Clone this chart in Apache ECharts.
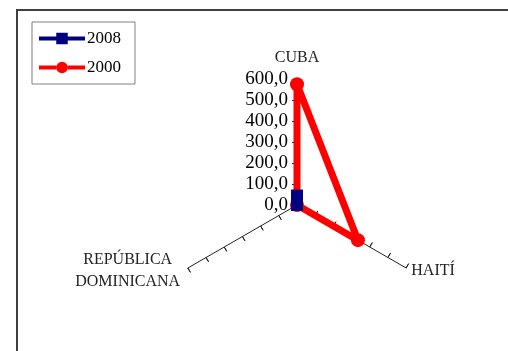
<!DOCTYPE html>
<html>
<head>
<meta charset="utf-8">
<script src="https://cdn.jsdelivr.net/npm/echarts@6/dist/echarts.min.js"></script>
<style>
  html, body { margin: 0; padding: 0; background: #fff; }
  #chart { width: 508px; height: 351px; }
</style>
</head>
<body>
<div id="chart"></div>
<script>
// ejes del radar (ECharts los recorre en sentido antihorario)
const paises = ['CUBA', 'REPÚBLICA DOMINICANA', 'HAITÍ'];
const maxEje = 600;
// valores por serie (mismo orden que paises)
const serie2000 = [575, 0, 335];
const serie2008 = [45, '-', '-'];
const nombresSeries = ['2008', '2000'];

const fuente = 'Liberation Serif';
const fmt = v => Number(v).toFixed(1).replace('.', ',');

// iconos de la leyenda: linea gruesa con marcador
const iconoCirculo = 'path://M0,5H18V9H0Z M30,5H48V9H30Z M18,7A6,6 0 1,1 30,7A6,6 0 1,1 18,7Z';
const iconoCuadro = 'path://M0,5H18V9H0Z M30,5H48V9H30Z M18,1H30V13H18Z';

// solo el eje de CUBA lleva etiquetas de valores
const indicadores = paises.map((p, i) => ({
  name: p,
  max: maxEje,
  min: 0,
  nameGap: i === 0 ? 13 : 6,
  axisLabel: { show: i === 0 }
}));

const myChart = echarts.init(document.getElementById('chart'));
const option = {
  animation: false,
  legend: {
    orient: 'vertical',
    left: 32,
    top: 22,
    padding: [8, 14, 8, 7],
    itemGap: 12,
    itemWidth: 46,
    itemHeight: 14,
    borderColor: '#808080',
    borderWidth: 1,
    backgroundColor: '#fff',
    textStyle: { fontFamily: fuente, fontSize: 17, color: '#000', padding: [0, 0, 0, -3] },
    data: [
      { name: '2008', icon: iconoCuadro },
      { name: '2000', icon: iconoCirculo }
    ]
  },
  graphic: [{
    type: 'polyline',
    shape: { points: [[17, 351], [17, 10], [508, 10]] },
    style: { stroke: '#404040', lineWidth: 2, fill: null },
    silent: true
  }],
  radar: [{
    center: [297, 205],
    radius: 126,
    startAngle: 90,
    shape: 'polygon',
    splitNumber: 6,
    indicator: indicadores,
    axisName: {
      color: '#222',
      fontFamily: fuente,
      fontSize: 16,
      formatter: function (n) {
        if (n === 'REPÚBLICA DOMINICANA') return '{c|REPÚBLICA}\n{c|DOMINICANA}';
        return n;
      },
      rich: { c: { width: 110, align: 'center', fontFamily: fuente, fontSize: 16, color: '#222', lineHeight: 22 } }
    },
    axisLine: { lineStyle: { color: '#222', width: 1 } },
    axisTick: { show: true, length: 5, lineStyle: { color: '#222' } },
    axisLabel: {
      show: false,
      formatter: fmt,
      fontFamily: fuente,
      fontSize: 19,
      color: '#000',
      margin: 9
    },
    splitLine: { show: false },
    splitArea: { show: false }
  }, {
    center: [297, 205],
    radius: 126,
    startAngle: 90,
    shape: 'polygon',
    splitNumber: 6,
    indicator: paises.map(p => ({ name: p, max: maxEje, min: 0 })),
    axisName: { show: false },
    axisLine: { show: false },
    axisTick: { show: true, inside: true, length: 5, lineStyle: { color: '#222' } },
    axisLabel: { show: false },
    splitLine: { show: false },
    splitArea: { show: false }
  }],
  series: [{
    type: 'radar',
    radarIndex: 0,
    z: 3,
    symbol: 'circle',
    symbolSize: 14,
    lineStyle: { width: 7, color: '#ff0000' },
    itemStyle: { color: '#ff0000' },
    data: [{ name: nombresSeries[1], value: serie2000 }]
  }, {
    type: 'radar',
    radarIndex: 0,
    z: 4,
    symbol: 'rect',
    symbolSize: [12, 12],
    lineStyle: { width: 5, color: '#000080' },
    itemStyle: { color: '#000080' },
    data: [{ name: nombresSeries[0], value: serie2008 }]
  }]
};
myChart.setOption(option);
</script>
</body>
</html>
